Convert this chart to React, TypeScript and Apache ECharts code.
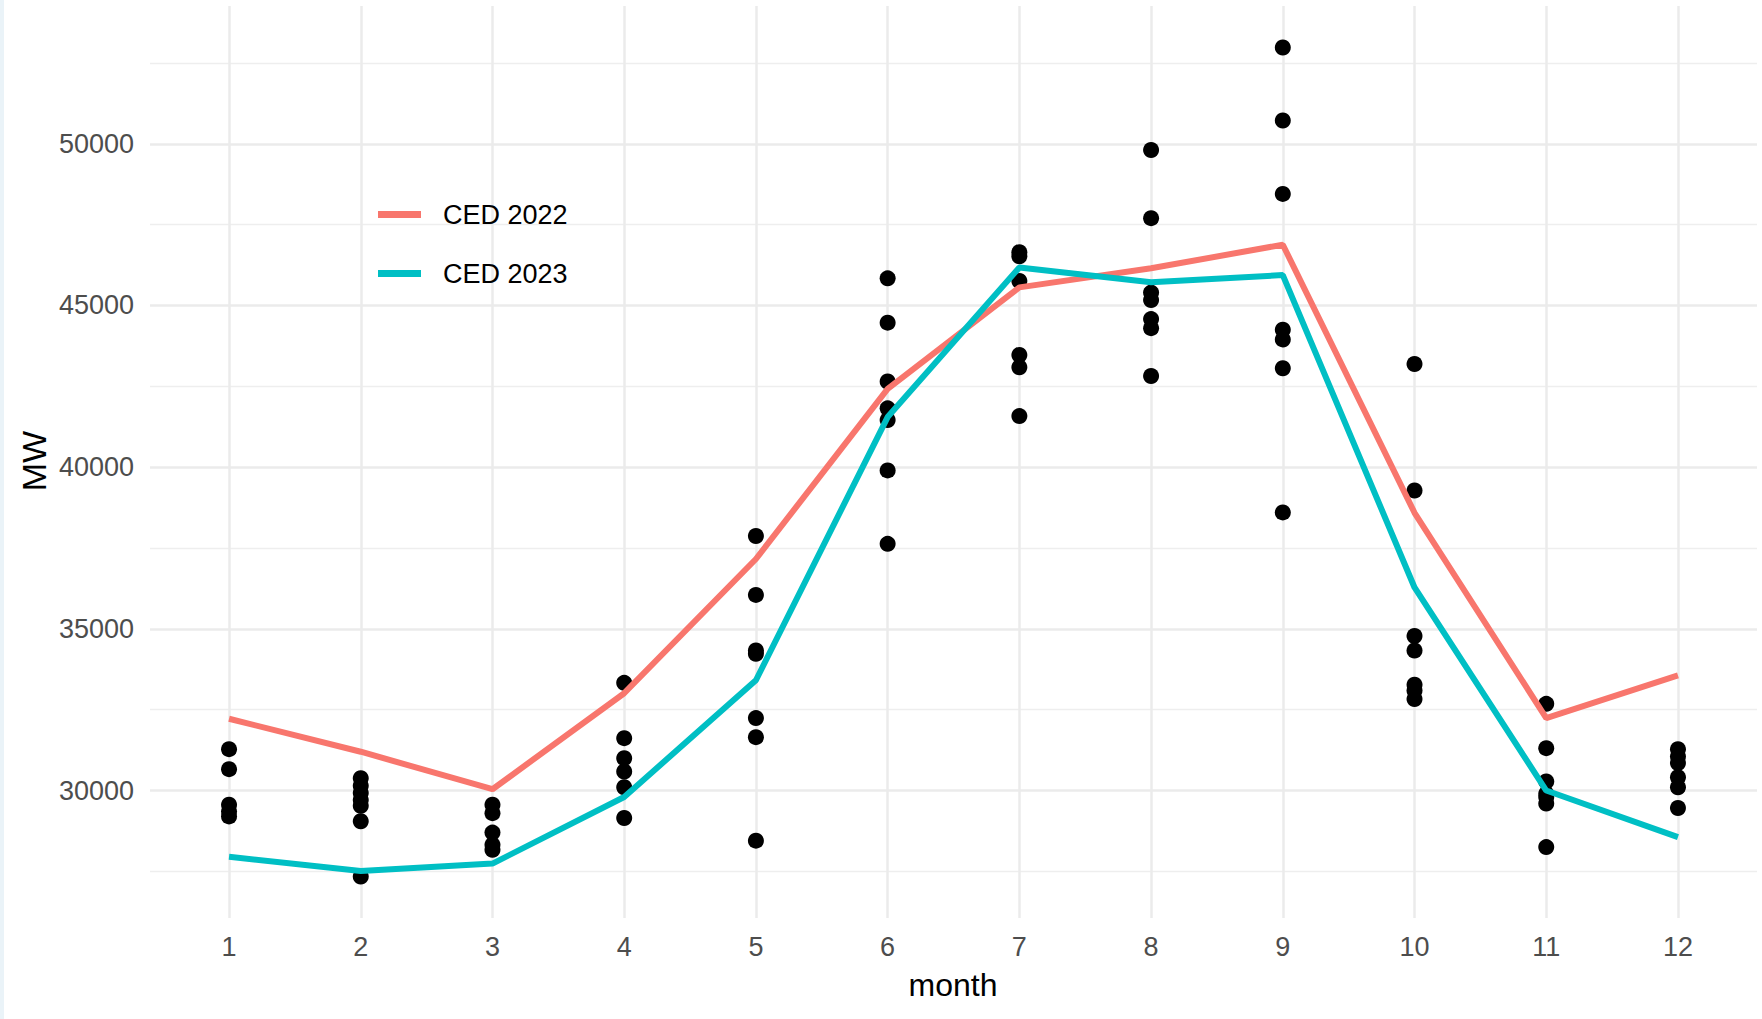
import React, { useEffect, useRef } from "react";
import * as echarts from "echarts";

// ---- data ----
const months = [1, 2, 3, 4, 5, 6, 7, 8, 9, 10, 11, 12];
const ced2022 = [32220, 31200, 30040, 33010, 37160, 42420, 45560, 46150, 46880, 38590, 32240, 33560];
const ced2023 = [27950, 27510, 27740, 29800, 33410, 41550, 46175, 45720, 45940, 36280, 30000, 28560];

const obsJan = [31280, 30660, 29560, 29350, 29200];
const obsFeb = [30380, 30150, 29920, 29710, 29530, 29050, 27340];
const obsMar = [29560, 29300, 28700, 28320, 28170];
const obsApr = [33330, 31620, 31000, 30590, 30100, 29150];
const obsMay = [37870, 36050, 34330, 34230, 32240, 31650, 28450];
const obsJun = [45840, 44470, 42650, 41820, 41460, 39900, 37630];
const obsJul = [46650, 46520, 45760, 43470, 43090, 41580];
const obsAug = [49810, 47700, 45400, 45170, 44580, 44300, 42820];
const obsSep = [52980, 50720, 48450, 44250, 43950, 43060, 38600];
const obsOct = [43190, 39280, 34780, 34330, 33270, 33090, 32830];
const obsNov = [32680, 31310, 30280, 29900, 29790, 29600, 28250];
const obsDec = [31280, 31050, 30850, 30410, 30100, 29460];

const yTicks = [30000, 35000, 40000, 45000, 50000];
const yMinorTicks = [27500, 32500, 37500, 42500, 47500, 52500];

const FONT = "'Liberation Sans', Arial, Helvetica, sans-serif";

export default function App() {
  const ref = useRef<HTMLDivElement>(null);

  useEffect(() => {
    if (!ref.current) return;
    const chart = echarts.init(ref.current, undefined, { renderer: "svg" });

    const obsByMonth = [obsJan, obsFeb, obsMar, obsApr, obsMay, obsJun, obsJul, obsAug, obsSep, obsOct, obsNov, obsDec];
    const scatterData: number[][] = [];
    obsByMonth.forEach((vals, i) => vals.forEach((v) => scatterData.push([months[i], v])));

    const allY = [...scatterData.map((d) => d[1]), ...ced2022, ...ced2023];
    const yLo = Math.min(...allY);
    const yHi = Math.max(...allY);
    const yPad = (yHi - yLo) * 0.05;
    const xMin = Math.min(...months) - 0.6;
    const xMax = Math.max(...months) + 0.6;

    const majorStyle = { color: "#EBEBEB", width: 2.5, type: "solid" as const };
    const minorStyle = { color: "#EEEEEE", width: 1.4, type: "solid" as const };

    const gridLines = [
      ...yMinorTicks.map((v) => ({ yAxis: v, lineStyle: minorStyle })),
      ...yTicks.map((v) => ({ yAxis: v, lineStyle: majorStyle })),
      ...months.map((m) => ({ xAxis: m, lineStyle: majorStyle })),
    ];

    chart.setOption({
      animation: false,
      backgroundColor: "#FFFFFF",
      grid: { left: 150, right: 5, top: 6, bottom: 101, containLabel: false },
      legend: {
        data: ["CED 2022", "CED 2023"],
        orient: "vertical",
        left: 373,
        top: 196,
        icon: "rect",
        itemWidth: 43,
        itemHeight: 7,
        itemGap: 32,
        selectedMode: false,
        textStyle: { fontFamily: FONT, fontSize: 27, color: "#000000", padding: [0, 0, 0, 17] },
      },
      xAxis: {
        type: "value",
        min: xMin,
        max: xMax,
        axisLine: { show: false },
        axisTick: { show: false },
        splitLine: { show: false },
        axisLabel: {
          customValues: months,
          margin: 15,
          fontFamily: FONT,
          fontSize: 27,
          color: "#4D4D4D",
          formatter: (v: number) => String(v),
        },
      },
      yAxis: {
        type: "value",
        min: yLo - yPad,
        max: yHi + yPad,
        axisLine: { show: false },
        axisTick: { show: false },
        splitLine: { show: false },
        axisLabel: {
          customValues: yTicks,
          margin: 16,
          fontFamily: FONT,
          fontSize: 27,
          color: "#4D4D4D",
          formatter: (v: number) => String(Math.round(v)),
        },
      },
      series: [
        {
          name: "grid",
          type: "line",
          data: [],
          z: 0,
          silent: true,
          markLine: {
            z: 0,
            silent: true,
            symbol: ["none", "none"],
            label: { show: false },
            emphasis: { disabled: true },
            data: gridLines,
          },
        },
        {
          name: "obs",
          type: "scatter",
          data: scatterData,
          symbol: "circle",
          symbolSize: 16,
          itemStyle: { color: "#000000", opacity: 1 },
          z: 2,
          silent: true,
        },
        {
          name: "CED 2022",
          type: "line",
          data: months.map((m, i) => [m, ced2022[i]]),
          showSymbol: false,
          symbol: "none",
          color: "#F8766D",
          lineStyle: { color: "#F8766D", width: 6 },
          itemStyle: { color: "#F8766D" },
          z: 3,
          silent: true,
        },
        {
          name: "CED 2023",
          type: "line",
          data: months.map((m, i) => [m, ced2023[i]]),
          showSymbol: false,
          symbol: "none",
          color: "#00BFC4",
          lineStyle: { color: "#00BFC4", width: 6 },
          itemStyle: { color: "#00BFC4" },
          z: 3,
          silent: true,
        },
      ],
      graphic: [
        {
          type: "rect",
          left: 0,
          top: 0,
          shape: { x: 0, y: 0, width: 4, height: 1019 },
          style: { fill: "#EAF3F8" },
          silent: true,
        },
        {
          type: "text",
          x: 34,
          y: 461,
          rotation: Math.PI / 2,
          style: {
            text: "MW",
            fontFamily: FONT,
            fontSize: 34,
            fill: "#000000",
            align: "center",
            verticalAlign: "middle",
          },
        },
        {
          type: "text",
          x: 953,
          y: 985,
          style: {
            text: "month",
            fontFamily: FONT,
            fontSize: 32,
            fill: "#000000",
            align: "center",
            verticalAlign: "middle",
          },
        },
      ],
    });

    return () => chart.dispose();
  }, []);

  return (
    <div
      ref={ref}
      style={{ position: "absolute", left: 0, top: 0, width: 1762, height: 1019, background: "#FFFFFF" }}
    />
  );
}
